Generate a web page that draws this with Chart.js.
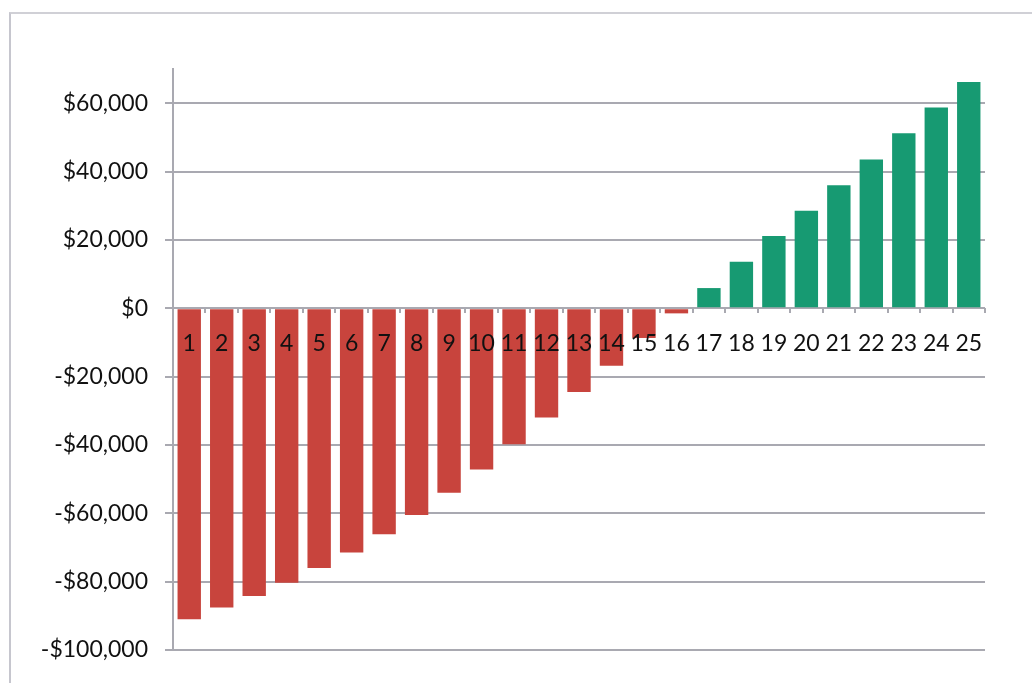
<!DOCTYPE html>
<html>
<head>
<meta charset="utf-8">
<script src="https://cdn.jsdelivr.net/npm/chart.js@4.4.1/dist/chart.umd.min.js"></script>
<style>
  html, body { margin: 0; padding: 0; background: #fff; overflow: hidden; }
  #wrap { position: relative; width: 1032px; height: 683px; }
  #frame { position: absolute; left: 9px; top: 12px; width: 1100px; height: 700px;
           border-left: 2px solid #c6c6ce; border-top: 2px solid #d0d0d6; pointer-events: none; }
  canvas { position: absolute; left: 0; top: 0; }
</style>
</head>
<body>
<div id="wrap">
  <canvas id="c" width="1032" height="683"></canvas>
  <div id="frame"></div>
</div>
<script>
// Year numbers along the category axis
const years = ['1','2','3','4','5','6','7','8','9','10','11','12','13','14','15','16','17','18','19','20','21','22','23','24','25'];

// Cumulative cash position at the end of each year (dollars)
const cumulative = [-91000, -87600, -84200, -80300, -76000, -71500, -66100, -60500, -54000, -47200,
                    -39800, -32000, -24500, -16800, -8700, -1500, 5900, 13600, 21100, 28500,
                    36000, 43500, 51200, 58700, 66200];

// Value axis range and labelled ticks
const axisMin = -100000;
const axisMax = 70000;
const tickValues = [-100000, -80000, -60000, -40000, -20000, 0, 20000, 40000, 60000];

const lossColor = '#c8443d';
const gainColor = '#179a72';
const gridColor = '#a9a9b1';

function money(v) {
  const s = '$' + Math.abs(v).toLocaleString('en-US');
  return v < 0 ? '-' + s : s;
}

new Chart(document.getElementById('c'), {
  type: 'bar',
  data: {
    labels: years,
    datasets: [{
      data: cumulative,
      backgroundColor: cumulative.map(v => v < 0 ? lossColor : gainColor),
      borderWidth: 0,
      categoryPercentage: 1.0,
      barPercentage: 0.72
    }]
  },
  options: {
    responsive: false,
    animation: false,
    layout: { padding: { left: 0, top: 69, right: 47, bottom: 33 } },
    plugins: { legend: { display: false }, tooltip: { enabled: false } },
    scales: {
      y: {
        min: axisMin,
        max: axisMax,
        afterBuildTicks(scale) {
          scale.ticks = tickValues.map(v => ({ value: v }));
        },
        afterFit(scale) { scale.width = 173; },
        ticks: {
          padding: 17,
          color: '#111',
          font: { family: 'Lato', size: 23 },
          callback: v => money(v)
        },
        grid: { color: gridColor, lineWidth: 2, tickLength: 8 },
        border: { color: gridColor, width: 2 }
      },
      x: {
        position: { y: 0 },
        ticks: {
          z: 1,
          autoSkip: false,
          maxRotation: 0,
          padding: 17,
          color: '#111',
          font: { family: 'Lato', size: 23 }
        },
        grid: { drawOnChartArea: false, drawTicks: true, tickLength: 5, color: gridColor, lineWidth: 2 },
        border: { display: false }
      }
    }
  }
});
</script>
</body>
</html>
